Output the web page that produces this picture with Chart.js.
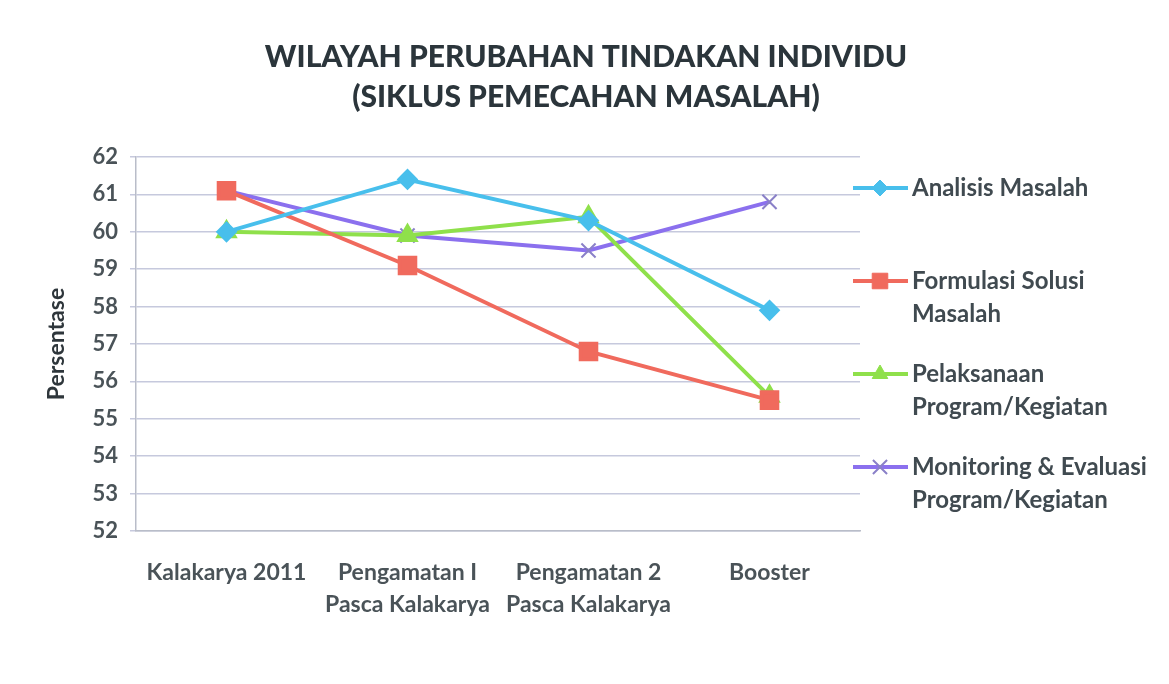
<!DOCTYPE html>
<html>
<head>
<meta charset="utf-8">
<script src="https://cdn.jsdelivr.net/npm/chart.js@4/dist/chart.umd.min.js"></script>
<style>
  html, body { margin: 0; padding: 0; background: #ffffff; }
  #wrap { width: 1169px; height: 684px; position: relative; }
</style>
</head>
<body>
<div id="wrap"><canvas id="c" width="1169" height="684"></canvas></div>
<script>
const categories = [["Kalakarya 2011", ""], ["Pengamatan I", "Pasca Kalakarya"], ["Pengamatan 2", "Pasca Kalakarya"], ["Booster", ""]];
const analisisMasalah = [60.0, 61.4, 60.3, 57.9];
const formulasiSolusi = [61.1, 59.1, 56.8, 55.5];
const pelaksanaan = [60.0, 59.9, 60.4, 55.6];
const monitoring = [61.1, 59.9, 59.5, 60.8];
const seriesNames = [["Analisis Masalah"], ["Formulasi Solusi", "Masalah"], ["Pelaksanaan", "Program/Kegiatan"], ["Monitoring & Evaluasi", "Program/Kegiatan"]];
const titleLines = ["WILAYAH PERUBAHAN TINDAKAN INDIVIDU", "(SIKLUS PEMECAHAN MASALAH)"];
const yTitle = "Persentase";
const yMin = 52, yMax = 62;

const FONT = "Lato, 'Open Sans', sans-serif";

const legendPlugin = {
  id: 'customLegend',
  afterDraw(chart) {
    const ctx = chart.ctx;
    ctx.save();
    // title
    ctx.fillStyle = '#2b353b';
    ctx.font = "900 30px " + FONT;
    ctx.textAlign = 'center';
    ctx.textBaseline = 'middle';
    ctx.fillText(titleLines[0], 586, 57);
    ctx.fillText(titleLines[1], 586, 97);
    // legend
    const tops = [188, 281, 374, 467];
    chart.data.datasets.forEach((ds, i) => {
      const y = tops[i];
      ctx.strokeStyle = ds.borderColor;
      ctx.lineWidth = 4;
      ctx.beginPath();
      ctx.moveTo(853, y);
      ctx.lineTo(908, y);
      ctx.stroke();
      ctx.fillStyle = ds.pointBackgroundColor;
      ctx.strokeStyle = ds.pointBorderColor;
      ctx.lineWidth = ds.pointBorderWidth || 1;
      Chart.helpers.drawPoint(ctx, {
        pointStyle: ds.pointStyle,
        radius: ds.pointRadius,
        borderWidth: ds.pointBorderWidth || 1
      }, 880, y);
      ctx.fillStyle = '#404a50';
      ctx.font = "bold 24px " + FONT;
      ctx.textAlign = 'left';
      ctx.textBaseline = 'middle';
      seriesNames[i].forEach((t, k) => ctx.fillText(t, 912, y + k * 33));
    });
    ctx.restore();
  }
};

new Chart(document.getElementById('c'), {
  type: 'line',
  data: {
    labels: categories,
    datasets: [
      { label: seriesNames[0].join(' '), data: analisisMasalah, borderColor: '#48bfec', backgroundColor: '#48bfec',
        pointStyle: 'rectRot', pointRadius: 8, pointBackgroundColor: '#48bfec', pointBorderColor: '#48bfec', borderWidth: 4 },
      { label: seriesNames[1].join(' '), data: formulasiSolusi, borderColor: '#f06a5d', backgroundColor: '#f06a5d',
        pointStyle: 'rect', pointRadius: 11, pointBackgroundColor: '#f06a5d', pointBorderColor: '#f06a5d', borderWidth: 4 },
      { label: seriesNames[2].join(' '), data: pelaksanaan, borderColor: '#8fe04b', backgroundColor: '#8fe04b',
        pointStyle: 'triangle', pointRadius: 9, pointBackgroundColor: '#8fe04b', pointBorderColor: '#8fe04b', borderWidth: 4 },
      { label: seriesNames[3].join(' '), data: monitoring, borderColor: '#8b70ee', backgroundColor: '#8b70ee',
        pointStyle: 'crossRot', pointRadius: 10, pointBackgroundColor: '#8b70ee', pointBorderColor: '#8a80c8', pointBorderWidth: 2, borderWidth: 4 }
    ]
  },
  options: {
    responsive: false,
    animation: false,
    devicePixelRatio: 1,
    layout: { padding: { top: 157, right: 309, bottom: 0, left: 0 } },
    plugins: { legend: { display: false }, title: { display: false }, tooltip: { enabled: false } },
    elements: { line: { tension: 0 } },
    scales: {
      x: {
        offset: true,
        grid: { display: false, drawTicks: false },
        border: { display: true, color: '#b9bdc9', width: 1.5 },
        ticks: { color: '#4a5358', padding: 26, font: { family: FONT, size: 23, weight: 'bold', lineHeight: 1.39 }, maxRotation: 0, autoSkip: false },
        afterFit(scale) { scale.height = 684 - 531; }
      },
      y: {
        min: yMin, max: yMax,
        ticks: { stepSize: 1, color: '#4a5358', padding: 12, font: { family: FONT, size: 22, weight: 'bold' } },
        grid: { color: '#c6c9dd', lineWidth: 1.5, tickLength: 6 },
        border: { display: true, color: '#b9bdc9', width: 1.5 },
        title: { display: true, text: yTitle, color: '#2e363b', font: { family: FONT, size: 23, weight: 'bold' }, padding: { top: 43, bottom: 0 } },
        afterFit(scale) { scale.width = 136; }
      }
    }
  },
  plugins: [legendPlugin]
});
</script>
</body>
</html>
